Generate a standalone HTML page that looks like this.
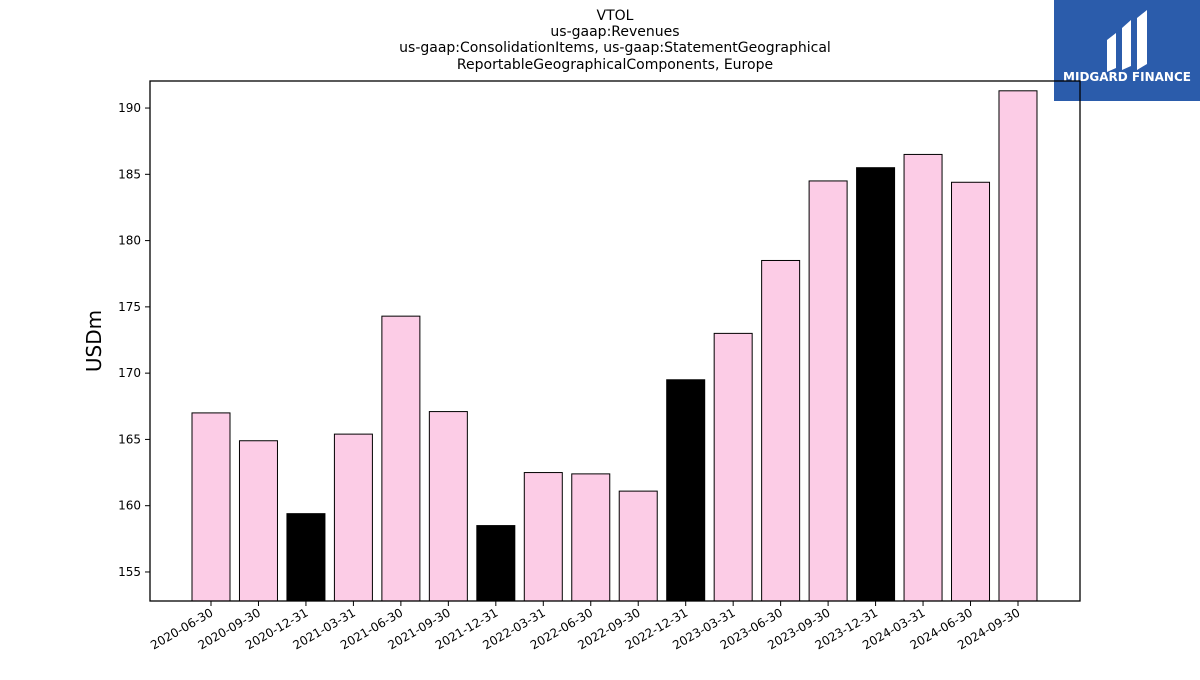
<!DOCTYPE html>
<html><head><meta charset="utf-8"><style>
body{margin:0;background:#fff;font-family:"Liberation Sans","DejaVu Sans",sans-serif}
</style></head><body>
<svg width="1200" height="675" xmlns="http://www.w3.org/2000/svg" font-family="DejaVu Sans, Liberation Sans, sans-serif">
<g font-size="14" text-anchor="middle" fill="#000">
<text x="615" y="20">VTOL</text>
<text x="615" y="36">us-gaap:Revenues</text>
<text x="615" y="52">us-gaap:ConsolidationItems, us-gaap:StatementGeographical</text>
<text x="615" y="69">ReportableGeographicalComponents, Europe</text>
</g>
<g>
<rect x="1054" y="0" width="146" height="101" fill="#2b5cab"/>
<path d="M1107 40 L1116 33 L1116 68 L1107 72 Z M1122 28 L1131 20 L1131 66 L1122 70 Z M1137 18 L1147 10 L1147 64 L1137 70 Z" fill="#fff"/>
<text x="1127" y="81" font-size="12" font-weight="bold" fill="#fff" text-anchor="middle">MIDGARD FINANCE</text>
</g>
<g id="plot"></g>
<text x="101" y="341" font-size="20" text-anchor="middle" transform="rotate(-90 101 341)">USDm</text>
</svg>
<script>
const categories=["2020-06-30","2020-09-30","2020-12-31","2021-03-31","2021-06-30","2021-09-30","2021-12-31","2022-03-31","2022-06-30","2022-09-30","2022-12-31","2023-03-31","2023-06-30","2023-09-30","2023-12-31","2024-03-31","2024-06-30","2024-09-30"];
const values=[167.0,164.9,159.4,165.4,174.3,167.1,158.5,162.5,162.4,161.1,169.5,173.0,178.5,184.5,185.5,186.5,184.4,191.3];
const yTicks=[155,160,165,170,175,180,185,190];
const NS="http://www.w3.org/2000/svg";
const L=150,R=1080,T=81,B=601,yMin=152.81,yMax=192.04;
const y=v=>B-(v-yMin)/(yMax-yMin)*(B-T);
const step=47.47,x0=211;
const x=i=>x0+i*step;
const g=document.getElementById('plot');
function mk(t,a){const e=document.createElementNS(NS,t);for(const k in a)e.setAttribute(k,a[k]);g.appendChild(e);return e;}
values.forEach((v,i)=>{
 const r=mk('rect',{x:x(i)-19,y:y(v),width:38,height:B-y(v),fill:categories[i].endsWith('12-31')?'#000':'#fccce6',stroke:'#000','stroke-width':1});
 
 
 const tk=mk('line',{x1:x(i),x2:x(i),y1:B,y2:B+5,stroke:'#000'});
 
 
 const t=mk('text',{x:x(i)+3,y:B+14,'font-size':12,'text-anchor':'end',transform:`rotate(-30 ${x(i)+3} ${B+14})`});
 t.textContent=categories[i];
 
 
});
yTicks.forEach(v=>{
 const tk=mk('line',{x1:L-5,x2:L,y1:y(v),y2:y(v),stroke:'#000'});
 
 
 const t=mk('text',{x:L-9,y:y(v)+4,'font-size':12,'text-anchor':'end'});
 t.textContent=v;
 
 
});
const f=mk('rect',{x:L,y:T,width:R-L,height:B-T,fill:'none',stroke:'#000','stroke-width':1.3});


</script>
</body></html>
